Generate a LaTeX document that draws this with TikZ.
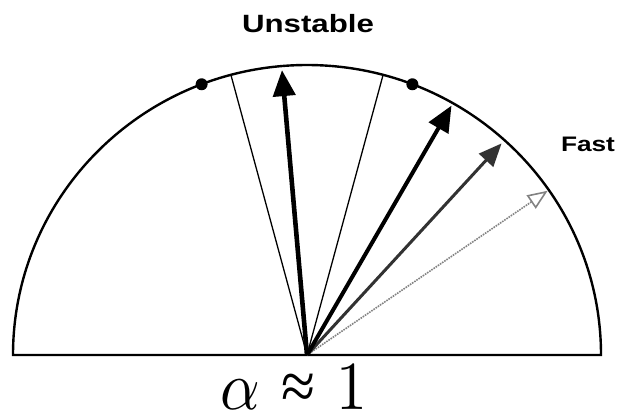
\documentclass[tikz,border=0pt]{standalone}
\usepackage{fontspec}
\usepackage{graphicx}
\usepackage{tikz}
\usetikzlibrary{arrows.meta}
\setsansfont{Liberation Sans}
\newfontfamily\timesfont{Liberation Serif}
\definecolor{fastgray}{RGB}{50,50,50}
\definecolor{slowgray}{RGB}{130,130,130}
\tikzset{
  rim/.style={line width=2.4bp},
  sector/.style={line width=1.3bp},
  dot/.style={circle,fill=black,minimum size=12bp,inner sep=0pt},
  vec/.style={line width=4.6bp,-{Triangle[length=26bp,width=22bp]}},
  fastvec/.style={line width=3bp,color=fastgray,-{Triangle[length=23bp,width=19bp]}},
  slowvec/.style={line width=1.6bp,color=slowgray,densely dotted,-{Triangle[open,length=20bp,width=16bp]}},
  lbl/.style={font=\sffamily\bfseries\fontsize{25bp}{30bp}\selectfont}
}

\begin{document}
\begin{tikzpicture}[x=1bp,y=-1bp,inner sep=0pt,outer sep=0pt]
  \useasboundingbox (0,0) rectangle (619,417);
  \coordinate (o) at (307,355);
  \coordinate (l) at ([shift={(180:294 and 290)}]o);
  \coordinate (r) at ([shift={(0:294 and 290)}]o);
  \coordinate (bl) at ([shift={(-105:294 and 290)}]o);
  \coordinate (br) at ([shift={(-75:294 and 290)}]o);
  \coordinate (tu) at ([shift={(-95:287 and 286)}]o);
  \coordinate (t2) at ([shift={(-60:289 and 288)}]o);
  \coordinate (t3) at ([shift={(-47.5:288 and 287)}]o);
  \coordinate (t4) at ([shift={(-34.5:292 and 290)}]o);
  \draw[rim] (l) arc[start angle=180,end angle=360,x radius=294,y radius=290] -- cycle;
  \draw[sector] (o) -- (bl);
  \draw[sector] (o) -- (br);
  \node[dot] (dl) at ([shift={(-111:294 and 290)}]o) {};
  \node[dot] (dr) at ([shift={(-69:294 and 290)}]o) {};
  \draw[slowvec] (o) -- (t4);
  \draw[fastvec] (o) -- (t3);
  \draw[vec,line width=4bp] (o) -- (t2);
  \draw[vec] (o) -- (tu);
  \node[lbl,anchor=base] (unstable) at (308,32) {\scalebox{1.25}[1]{Unstable}};
  \node[lbl,font=\sffamily\bfseries\fontsize{21bp}{25bp}\selectfont,anchor=base west] (fast) at (561,151) {\scalebox{1.25}[1]{Fast}};
  \node[anchor=base] (alpha) at (294,409) {\scalebox{6.2}[6.9]{$\alpha$\hspace{3.4pt}{\timesfont ≈}\hspace{3.4pt}$1$}};
\end{tikzpicture}
\end{document}
